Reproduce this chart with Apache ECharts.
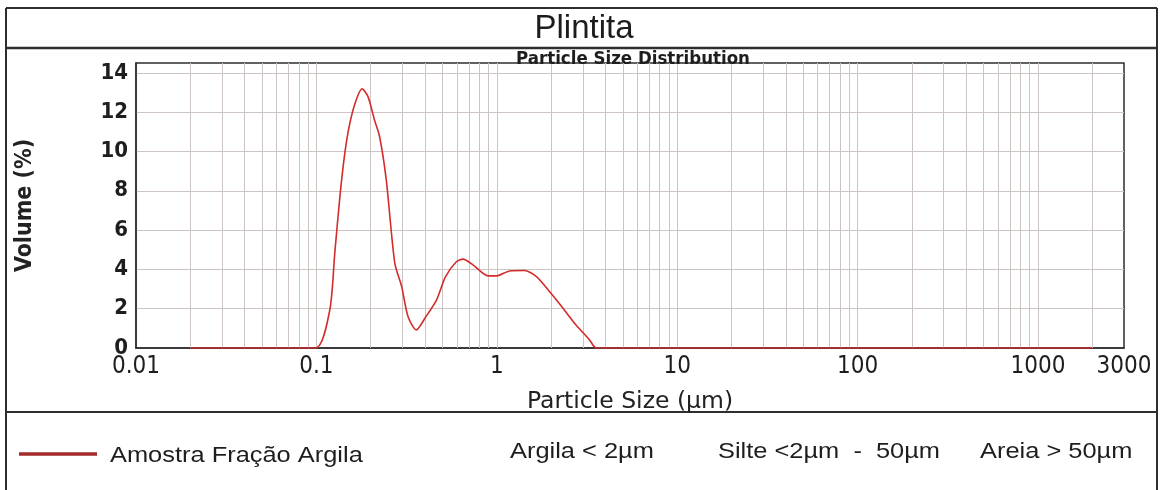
<!DOCTYPE html>
<html>
<head>
<meta charset="utf-8">
<script src="https://cdn.jsdelivr.net/npm/echarts@6/dist/echarts.min.js"></script>
<style>
  html, body { margin: 0; padding: 0; background: #ffffff; }
  #chart { width: 1168px; height: 490px; }
</style>
</head>
<body>
<div id="chart"></div>
<script>
// Particle size distribution of the clay fraction (laser diffraction)
const sizesUm = [0.02, 0.05, 0.0992, 0.1186, 0.1265, 0.135, 0.1437, 0.153, 0.166, 0.179,
  0.193, 0.21, 0.224, 0.244, 0.272, 0.297, 0.322, 0.358, 0.405, 0.463, 0.52, 0.597,
  0.65, 0.738, 0.894, 1.0, 1.178, 1.425, 1.66, 1.96, 2.33, 2.75, 3.27, 3.56, 10, 100, 1000, 2000];
const volumePct = [0, 0, 0, 1.93, 4.84, 7.7, 9.9, 11.4, 12.6, 13.19,
  12.8, 11.6, 10.76, 8.55, 4.32, 3.12, 1.6, 0.92, 1.6, 2.44, 3.63, 4.39,
  4.52, 4.23, 3.67, 3.67, 3.92, 3.94, 3.63, 2.87, 2.02, 1.17, 0.41, 0, 0, 0, 0, 0];

const xTickLabels = ['0.01', '0.1', '1', '10', '100', '1000', '3000'];
const yTicks = [0, 2, 4, 6, 8, 10, 12, 14];
const seriesName = 'Amostra Fração Argila';
const classTexts = ['Argila < 2µm', 'Silte <2µm  -  50µm', 'Areia > 50µm'];

// vertical grid at 1..9 of every decade inside the axis range
const vGrid = [];
for (let e = -2; e <= 3; e++) {
  for (let m = 1; m <= 9; m++) {
    const v = +(m * Math.pow(10, e)).toPrecision(6);
    if (v > 0.01 && v < 3000) vGrid.push(v);
  }
}

const gridColor = '#cdc4c4';
const frameColor = '#2e2e2e';
const curveColor = '#d42b2b';
const legendColor = '#a52b2b';
const condFont = '"DejaVu Sans Condensed", "DejaVu Sans", sans-serif';
const wideFont = '"DejaVu Sans", sans-serif';
const footFont = '22px "Liberation Sans", Arial, sans-serif';

function footText(x, y, text) {
  return {
    type: 'text', x: x, y: y, scaleX: 1.155,
    style: { text: text, font: footFont, fill: '#1e1e1e', align: 'left', verticalAlign: 'middle' }
  };
}

const chart = echarts.init(document.getElementById('chart'), null, { renderer: 'canvas' });

chart.setOption({
  animation: false,
  backgroundColor: '#ffffff',
  title: [
    { text: 'Plintita', left: 'center', top: 7,
      textStyle: { fontFamily: 'Liberation Sans', fontSize: 33, fontWeight: 'normal', color: '#1c1c1c' } },
    { text: 'Particle Size Distribution', left: 628, textAlign: 'center', top: 45,
      textStyle: { fontFamily: condFont, fontSize: 18.5, fontWeight: 'bold', color: '#1e1e1e' } }
  ],
  grid: {
    left: 136, right: 44, top: 63, bottom: 142,
    show: true, borderColor: frameColor, borderWidth: 1.5, backgroundColor: 'transparent'
  },
  xAxis: {
    type: 'log', logBase: 10, min: 0.01, max: 3000,
    name: 'Particle Size (µm)', nameLocation: 'middle', nameGap: 42,
    nameTextStyle: { fontFamily: wideFont, fontSize: 23.5, color: '#222' },
    axisLine: { show: true, lineStyle: { color: frameColor, width: 1.5 } },
    axisTick: { show: false },
    splitLine: { show: false },
    axisLabel: {
      margin: 7, fontFamily: condFont, fontSize: 24, color: '#1e1e1e',
      formatter: function (v) {
        const s = String(+(+v).toPrecision(6));
        return xTickLabels.indexOf(s) >= 0 ? s : '';
      }
    }
  },
  yAxis: {
    type: 'value', min: 0, max: 14.5, interval: 2,
    name: 'Volume (%)', nameLocation: 'middle', nameGap: 99, nameRotate: 90,
    nameTextStyle: { fontFamily: condFont, fontSize: 23, fontWeight: 'bold', color: '#222' },
    axisLine: { show: true, lineStyle: { color: frameColor, width: 1.5 } },
    axisTick: { show: false },
    splitLine: { show: true, showMinLine: false, showMaxLine: false, lineStyle: { color: gridColor, width: 1 } },
    axisLabel: {
      margin: 8, fontFamily: condFont, fontSize: 22, fontWeight: 'bold', color: '#1e1e1e',
      showMaxLabel: false,
      formatter: function (v) { return yTicks.indexOf(v) >= 0 ? String(v) : ''; }
    }
  },
  series: [
    {
      name: 'grid', type: 'line', data: [], z: 1, silent: true,
      markLine: {
        silent: true, symbol: 'none', animation: false,
        label: { show: false },
        lineStyle: { color: gridColor, width: 1, type: 'solid' },
        data: vGrid.map(v => ({ xAxis: v }))
      }
    },
    {
      name: seriesName, type: 'line', z: 5,
      showSymbol: false, smooth: 0.25,
      lineStyle: { color: curveColor, width: 1.6 },
      itemStyle: { color: curveColor },
      data: sizesUm.map((s, i) => [s, volumePct[i]])
    }
  ],
  graphic: [
    // outer frame and the two dividers
    { type: 'line', shape: { x1: 6, y1: 8, x2: 1157, y2: 8 }, style: { stroke: frameColor, lineWidth: 2 } },
    { type: 'line', shape: { x1: 6, y1: 8, x2: 6, y2: 490 }, style: { stroke: frameColor, lineWidth: 2 } },
    { type: 'line', shape: { x1: 1157, y1: 8, x2: 1157, y2: 490 }, style: { stroke: frameColor, lineWidth: 2 } },
    { type: 'line', shape: { x1: 6, y1: 48, x2: 1157, y2: 48 }, style: { stroke: frameColor, lineWidth: 2.5 } },
    { type: 'line', shape: { x1: 6, y1: 412, x2: 1157, y2: 412 }, style: { stroke: frameColor, lineWidth: 2 } },
    // series key
    { type: 'line', shape: { x1: 19, y1: 454, x2: 97, y2: 454 }, style: { stroke: legendColor, lineWidth: 3.5 } },
    footText(110, 456, seriesName),
    // grain size classes
    footText(510, 452, classTexts[0]),
    footText(718, 452, classTexts[1]),
    footText(980, 452, classTexts[2])
  ]
});
</script>
</body>
</html>
